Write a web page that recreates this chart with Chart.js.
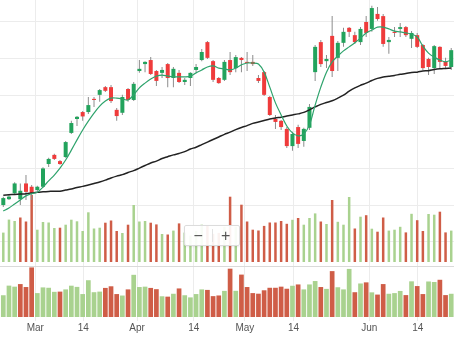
<!DOCTYPE html>
<html>
<head>
<meta charset="utf-8">
<script src="https://cdn.jsdelivr.net/npm/chart.js@4.4.1/dist/chart.umd.min.js"></script>
<style>
  html, body { margin: 0; padding: 0; background: #fff; }
  #wrap { position: relative; width: 454px; height: 341px; overflow: hidden; }
  #price { position: absolute; left: 0; top: 0; }
  #lower { position: absolute; left: 0; top: 264px; }
  .zoom {
    position: absolute; left: 184px; top: 225px; width: 56px; height: 21px;
    box-sizing: border-box; display: flex;
    background: rgba(255,255,255,0.92); border: 1px solid #dcdcdc; border-radius: 2px;
    box-shadow: 0 1px 2px rgba(0,0,0,0.08);
    font-family: "Liberation Sans", Arial, sans-serif; font-size: 16px; color: #555;
  }
  .zoom span { flex: 1; display: flex; align-items: center; justify-content: center; line-height: 1; }
  .zoom span + span { border-left: 1px solid #e2e2e2; margin: 3px 0; }
</style>
</head>
<body>
<div id="wrap">
  <canvas id="price" width="454" height="264"></canvas>
  <canvas id="lower" width="454" height="77"></canvas>
  <div class="zoom"><span>−</span><span>+</span></div>
</div>
<script>
// Daily sessions, OHLC prices
const opens = [
  140.0,141.6,143.2,141.6,145.9,145.0,144.1,145.0,151.2,153.7,
  152.0,153.1,159.7,163.5,165.4,165.4,169.0,170.1,172.2,172.2,
  166.0,165.2,171.7,168.7,176.6,178.5,179.6,176.6,176.1,178.5,
  174.7,176.1,173.6,174.7,176.9,179.6,184.5,179.3,174.7,174.2,
  179.6,177.4,180.2,179.1,179.1,174.7,176.3,169.5,163.5,163.0,
  160.8,156.1,161.3,157.5,161.1,176.3,184.5,179.3,186.2,180.2,
  184.3,188.4,186.4,184.5,190.0,188.1,192.2,191.6,184.5,187.3,
  188.1,188.6,185.4,186.4,183.7,179.9,177.4,183.2,179.1,177.7
];
const highs = [
  142.3,142.7,146.2,145.9,148.2,145.5,145.3,150.3,152.9,154.0,
  152.3,157.5,163.0,164.3,165.7,169.5,169.5,171.7,172.5,172.8,
  166.5,170.1,172.0,173.6,179.6,179.3,180.4,176.9,177.7,178.8,
  177.7,176.9,174.7,176.3,178.5,182.6,184.8,179.6,175.0,179.6,
  181.8,181.0,180.4,181.8,181.0,175.5,176.6,169.8,164.6,163.2,
  161.3,160.0,161.9,161.1,167.6,183.7,185.1,181.0,191.6,184.8,
  188.4,188.6,187.3,188.6,191.6,194.4,194.1,192.2,185.9,188.6,
  189.7,188.9,187.5,187.0,184.0,180.2,183.7,183.4,180.2,182.9
];
const lows = [
  139.5,141.4,142.9,140.0,141.4,141.4,143.8,144.7,150.4,152.3,
  151.0,152.9,159.4,161.6,163.0,164.9,166.8,168.2,170.9,167.9,
  163.0,164.6,168.2,168.4,176.1,176.3,175.5,172.5,174.7,172.2,
  172.2,173.3,172.8,172.5,176.3,179.3,179.9,173.6,173.1,173.9,
  175.5,176.3,176.3,176.6,178.0,173.3,169.8,164.3,160.8,160.5,
  155.6,154.8,155.6,155.9,160.5,173.9,177.7,177.4,175.0,176.6,
  183.2,185.9,184.0,183.7,185.9,187.3,190.3,183.2,181.3,185.9,
  185.9,185.9,182.9,182.9,176.9,175.5,175.8,177.4,177.4,176.9
];
const closes = [
  141.9,142.3,145.9,143.9,143.6,143.3,145.0,150.0,152.6,152.6,
  151.2,157.2,162.4,164.1,164.2,167.3,168.7,171.4,171.2,168.4,
  164.3,169.5,168.7,173.1,177.2,179.1,175.8,173.9,176.9,174.7,
  177.2,173.6,174.2,176.1,177.7,181.8,180.2,174.2,173.3,179.1,
  176.3,180.4,179.6,178.8,178.5,173.9,170.1,164.6,162.7,161.3,
  156.1,159.4,156.7,160.8,166.8,183.2,178.5,179.9,176.6,184.3,
  187.3,187.3,184.5,188.1,187.0,193.8,190.8,184.0,185.1,187.0,
  188.6,186.4,187.0,183.2,177.4,177.7,183.4,179.1,178.0,182.3
];
// Short and long moving averages
const maShort = [
  138.4,139.2,140.3,141.4,142.5,143.1,143.5,144.9,146.6,148.2,
  150.1,152.3,155.0,157.8,160.5,162.9,165.1,167.0,168.4,169.2,
  169.2,169.0,168.7,170.1,172.0,173.3,174.4,175.2,175.5,175.2,
  175.0,175.0,175.0,175.2,176.1,176.9,177.7,178.0,177.4,177.2,
  176.9,177.4,178.3,178.8,178.8,178.5,176.3,172.2,167.9,164.6,
  161.6,159.7,158.9,159.4,161.9,167.3,172.2,176.3,179.1,180.7,
  182.1,183.2,184.3,185.6,187.0,187.8,188.6,188.6,188.1,187.5,
  187.3,187.0,186.7,185.9,183.4,181.5,180.4,179.6,179.1,179.6
];
const maLong = [
  142.7,142.8,142.9,143.0,143.1,143.3,143.5,143.6,143.7,143.8,
  143.8,144.1,144.4,144.8,145.1,145.5,145.9,146.3,146.8,147.4,
  147.9,148.3,148.9,149.4,150.1,150.8,151.5,152.0,152.7,153.2,
  153.7,154.1,154.6,155.3,155.8,156.5,157.2,157.9,158.6,159.3,
  159.9,160.6,161.2,161.7,162.3,162.7,163.1,163.5,163.8,164.0,
  164.3,164.6,164.9,165.3,166.0,166.8,167.5,168.0,168.5,169.2,
  170.0,171.1,172.0,172.7,173.3,174.0,174.6,175.0,175.2,175.4,
  175.7,175.9,176.2,176.3,176.6,176.7,177.0,177.2,177.3,177.4
];
// Volume, millions of shares
const volume = [
  2.94,4.24,4.10,4.45,4.05,6.70,3.23,4.00,3.95,3.40,
  3.43,3.73,4.23,4.07,3.10,4.97,3.35,3.43,3.93,4.15,
  3.10,2.90,3.73,5.70,4.05,4.10,3.93,3.76,2.80,2.75,
  3.14,3.86,2.94,2.65,3.10,3.73,3.66,2.82,2.91,3.53,
  6.53,3.54,5.73,4.05,3.23,3.15,3.61,3.95,3.95,4.10,
  3.82,4.22,4.40,3.73,4.40,4.86,4.05,3.80,6.20,4.02,
  3.73,6.50,3.35,4.53,4.68,3.33,3.03,4.45,3.14,3.23,
  3.52,2.96,4.82,4.18,3.10,4.80,4.73,5.03,2.96,3.14
];
// Time axis: session positions of the date ticks
const tickPos = [5.65, 14.1, 23.6, 33.6, 42.6, 51.2, 64.55, 73.1];
const tickLabels = ['Mar', '14', 'Apr', '14', 'May', '14', 'Jun', '14'];
const priceGrid = [130, 140, 150, 160, 170, 180, 190];

const GRID = '#ececec';
const UP = '#22a35c', DOWN = '#ef3b3b', WICK = '#8c8c8c';
const VOL_UP = '#a9d28f', VOL_DOWN = '#cf5d47';

const bodyColors = opens.map((o, i) => closes[i] >= o ? UP : DOWN);
const volColors = closes.map((c, i) => (i === 0 || c >= closes[i - 1]) ? VOL_UP : VOL_DOWN);

function xAxis(showLabels) {
  return {
    type: 'linear', min: -0.582, max: 79.49, bounds: 'data', offset: false,
    afterBuildTicks: s => { s.ticks = tickPos.map(v => ({ value: v })); },
    grid: { color: GRID, offset: false, drawTicks: showLabels, tickLength: 4 },
    border: { display: false },
    ticks: {
      display: showLabels, autoSkip: false, maxRotation: 0, padding: 1,
      color: '#555', font: { family: '"Liberation Sans", Arial, sans-serif', size: 10 },
      callback: (v, i) => tickLabels[i]
    }
  };
}

const common = {
  responsive: false, animation: false, devicePixelRatio: 1, events: [],
  plugins: { legend: { display: false }, tooltip: { enabled: false } }
};

new Chart(document.getElementById('price'), {
  type: 'bar',
  data: {
    datasets: [
      { type: 'line', label: 'MA short', data: maShort.map((y, i) => ({ x: i, y })),
        xAxisID: 'x', yAxisID: 'yPrice', borderColor: '#2ea36c', borderWidth: 1.2,
        pointRadius: 0, tension: 0.35, order: 0 },
      { type: 'line', label: 'MA long', data: maLong.map((y, i) => ({ x: i, y })),
        xAxisID: 'x', yAxisID: 'yPrice', borderColor: '#222', borderWidth: 1.5,
        pointRadius: 0, tension: 0.35, order: 1 },
      { label: 'Body', data: opens.map((o, i) => ({ x: i, y: [o, closes[i]] })),
        xAxisID: 'x', yAxisID: 'yPrice', backgroundColor: bodyColors,
        barThickness: 4, grouped: false, inflateAmount: 0, order: 2 },
      { label: 'Wick', data: lows.map((l, i) => ({ x: i, y: [l, highs[i]] })),
        xAxisID: 'x', yAxisID: 'yPrice', backgroundColor: WICK,
        barThickness: 1, grouped: false, inflateAmount: 0, order: 3 },
      { label: 'Volume', data: volume.map((v, i) => ({ x: i, y: v })),
        xAxisID: 'x', yAxisID: 'yVol', backgroundColor: volColors,
        barThickness: 2.5, grouped: false, inflateAmount: 0, order: 4 }
    ]
  },
  options: Object.assign({}, common, {
    layout: { padding: 0 },
    scales: {
      x: xAxis(false),
      yPrice: {
        type: 'linear', position: 'left', min: 123.9, max: 196.0, bounds: 'data',
        afterBuildTicks: s => { s.ticks = priceGrid.map(v => ({ value: v })); },
        grid: { color: GRID, drawTicks: false }, border: { display: false },
        ticks: { display: false }
      },
      yVol: { type: 'linear', position: 'right', min: -0.2, max: 26.2, display: false }
    }
  })
});

new Chart(document.getElementById('lower'), {
  type: 'bar',
  data: {
    datasets: [
      { label: 'Volume', data: volume.map((v, i) => ({ x: i, y: v })),
        xAxisID: 'x', yAxisID: 'yLow', backgroundColor: volColors,
        barThickness: 4.7, inflateAmount: 0 }
    ]
  },
  options: Object.assign({}, common, {
    layout: { padding: { left: 0, right: 0, top: 0, bottom: 6 } },
    scales: {
      x: xAxis(true),
      yLow: {
        type: 'linear', position: 'left', min: 0, max: 7.162, bounds: 'data',
        afterBuildTicks: s => { s.ticks = [{ value: 6.757 }]; },
        grid: { color: '#dadada', drawTicks: false }, border: { display: false },
        ticks: { display: false }
      }
    }
  })
});
</script>
</body>
</html>
